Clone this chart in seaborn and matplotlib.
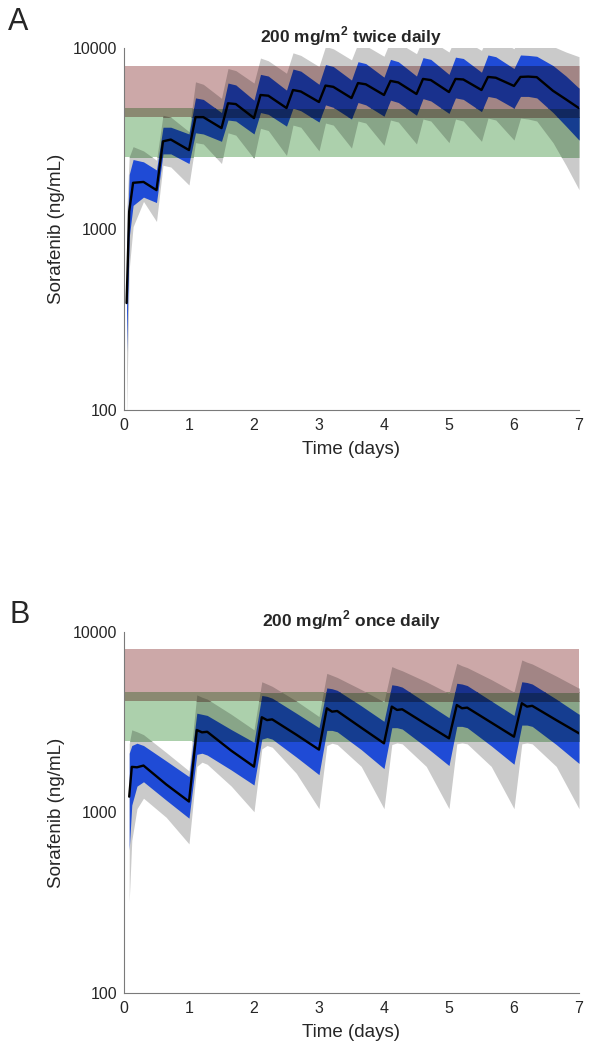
import matplotlib
matplotlib.use("Agg")
import matplotlib.pyplot as plt
import seaborn as sns
import pandas as pd
from matplotlib.colors import to_rgb
from matplotlib.ticker import NullLocator

# ---- data (ng/mL vs days) ----
# 200 mg/m2 twice daily
t_bid = [0.04, 0.08, 0.14, 0.3,
         0.5, 0.6, 0.72, 1.0, 1.1, 1.22, 1.5, 1.6, 1.72,
         2.0, 2.1, 2.22, 2.5, 2.6, 2.72, 3.0, 3.1, 3.22,
         3.5, 3.6, 3.72, 4.0, 4.1, 4.22, 4.5, 4.6, 4.72,
         5.0, 5.1, 5.22, 5.5, 5.6, 5.72, 6.0, 6.1, 6.22,
         6.35, 6.6, 6.8, 7.0]
median_bid = [390, 1250, 1800, 1820,
              1640, 3050, 3120, 2730, 4150, 4150, 3610, 4950, 4900,
              4100, 5500, 5450, 4660, 5860, 5750, 5030, 6200, 6100,
              5290, 6400, 6300, 5500, 6580, 6450, 5570, 6745, 6650,
              5710, 6745, 6700, 5860, 6920, 6850, 6170, 6920, 6950,
              6900, 5800, 5200, 4650]
blue_lo_bid = [210, 900, 1350, 1500,
               1400, 2600, 2600, 2300, 3400, 3350, 3050, 4000, 3950,
               3350, 4400, 4300, 3700, 4650, 4500, 3900, 4850, 4700,
               4050, 5000, 4850, 4200, 5150, 5000, 4250, 5250, 5100,
               4350, 5300, 5200, 4450, 5400, 5300, 4650, 5400, 5400,
               5300, 4400, 3700, 3100]
blue_hi_bid = [700, 2000, 2420, 2350,
               2120, 3650, 3650, 3350, 5300, 5200, 4400, 6400, 6250,
               5150, 7150, 7000, 5850, 7650, 7450, 6300, 8100, 7900,
               6650, 8400, 8200, 6900, 8650, 8400, 7000, 8850, 8650,
               7150, 8900, 8750, 7350, 9150, 8950, 7700, 9150, 9100,
               9000, 8000, 7000, 6000]
gray_lo_bid = [90, 600, 1030, 1420,
               1100, 2250, 2200, 1750, 3000, 2950, 2300, 3400, 3300,
               2450, 3600, 3500, 2550, 3750, 3650, 2700, 3850, 3750,
               2800, 3950, 3850, 2900, 4000, 3900, 2950, 4050, 3950,
               3000, 4050, 3950, 3050, 4100, 4000, 3100, 4100, 4050,
               3950, 3000, 2250, 1650]
gray_hi_bid = [1200, 2500, 2850, 2700,
               2400, 4250, 4150, 3450, 6500, 6300, 5270, 7700, 7500,
               6400, 8800, 8500, 7250, 9400, 9100, 7900, 10200, 9900,
               8600, 10600, 10300, 9000, 11000, 10700, 9300, 11300, 11000,
               9500, 11400, 11100, 9700, 11600, 11300, 9900, 11800, 11700,
               11500, 10200, 9500, 8950]

# 200 mg/m2 once daily
t_qd = [0.08, 0.12, 0.2, 0.3, 0.65,
        1.0, 1.12, 1.2, 1.28, 1.65,
        2.0, 2.12, 2.2, 2.28, 2.65,
        3.0, 3.12, 3.2, 3.28, 3.65,
        4.0, 4.12, 4.2, 4.28, 4.65,
        5.0, 5.12, 5.2, 5.28, 5.65,
        6.0, 6.12, 6.2, 6.28, 6.65,
        7.0]
median_qd = [1224, 1790, 1780, 1820, 1430,
             1150, 2865, 2780, 2800, 2200,
             1794, 3370, 3250, 3280, 2700,
             2230, 3780, 3620, 3650, 2950,
             2417, 3860, 3700, 3730, 3080,
             2576, 3940, 3780, 3810, 3150,
             2630, 4030, 3860, 3900, 3250,
             2746]
blue_lo_qd = [620, 1100, 1400, 1480, 1170,
              930, 2100, 2130, 2080, 1720,
              1420, 2550, 2600, 2550, 2030,
              1620, 2850, 2850, 2800, 2230,
              1750, 2950, 2950, 2900, 2300,
              1820, 3000, 3000, 2950, 2340,
              1850, 3050, 3050, 3000, 2380,
              1870]
blue_hi_qd = [2130, 2350, 2420, 2350, 1930,
              1580, 3550, 3500, 3450, 2880,
              2450, 4450, 4400, 4300, 3550,
              2950, 4900, 4850, 4750, 3900,
              3200, 5100, 5050, 4950, 4050,
              3350, 5200, 5150, 5050, 4150,
              3450, 5300, 5250, 5150, 4250,
              3500]
gray_lo_qd = [320, 700, 1050, 1200, 940,
              670, 1800, 1900, 1850, 1400,
              1010, 2250, 2350, 2300, 1650,
              1050, 2350, 2420, 2380, 1800,
              1050, 2380, 2430, 2400, 1800,
              1050, 2400, 2430, 2400, 1800,
              1050, 2400, 2430, 2400, 1800,
              1050]
gray_hi_qd = [2400, 2870, 2800, 2700, 2150,
              1700, 4480, 4350, 4250, 3500,
              2870, 5300, 5150, 5000, 4150,
              3400, 5900, 5750, 5600, 4800,
              4100, 6430, 6250, 6100, 5300,
              4570, 6700, 6500, 6350, 5450,
              4650, 7000, 6800, 6650, 5700,
              4880]

# target ranges
red_band = [4150, 8000]
green_band = [2500, 4650]

GRAY = "#cacaca"
BLUE = "#1f4bd6"
RED_TINT = "#cca8a8"
GREEN_TINT = "#acd0ac"
AXIS_COLOR = "#7a7a7a"
TEXT_COLOR = "#262626"

sns.set_style("white")
plt.rcParams["font.family"] = ["Liberation Sans", "DejaVu Sans"]
plt.rcParams["mathtext.fontset"] = "custom"
plt.rcParams["mathtext.rm"] = "Liberation Sans"
plt.rcParams["mathtext.bf"] = "Liberation Sans:bold"


def mult(c1, c2):
    # multiply blend of two colours (bands look multiplied over the curves)
    return tuple(a * b for a, b in zip(to_rgb(c1), to_rgb(c2)))


def draw_panel(ax, t, med, blo, bhi, glo, ghi, title):
    ax.set_yscale("log")
    ax.fill_between(t, glo, ghi, color=GRAY, lw=0, zorder=1)
    ax.fill_between(t, blo, bhi, color=BLUE, lw=0, zorder=1.1)

    overlap = mult(RED_TINT, GREEN_TINT)
    strips = [
        (green_band[0], red_band[0], to_rgb(GREEN_TINT)),
        (red_band[0], green_band[1], overlap),
        (green_band[1], red_band[1], to_rgb(RED_TINT)),
    ]
    for lo, hi, tint in strips:
        span = ax.axhspan(lo, hi, color=tint, lw=0, zorder=2)
        g = ax.fill_between(t, glo, ghi, color=mult(GRAY, tint), lw=0, zorder=2.1)
        b = ax.fill_between(t, blo, bhi, color=mult(BLUE, tint), lw=0, zorder=2.2)
        g.set_clip_path(span)
        b.set_clip_path(span)

    df = pd.DataFrame({"time": t, "conc": med})
    sns.lineplot(data=df, x="time", y="conc", color="black", lw=1.7,
                 ax=ax, zorder=3)

    ax.set_xlim(0, 7)
    ax.set_ylim(100, 10000)
    ax.set_xticks(range(8))
    ax.set_yticks([100, 1000, 10000])
    ax.set_yticklabels(["100", "1000", "10000"])
    ax.yaxis.set_minor_locator(NullLocator())
    sns.despine(ax=ax)
    for s in ["left", "bottom"]:
        ax.spines[s].set_color(AXIS_COLOR)
        ax.spines[s].set_linewidth(0.8)
    ax.tick_params(direction="in", length=3, width=0.8, color=AXIS_COLOR,
                   labelcolor=TEXT_COLOR, labelsize=11.5)
    ax.tick_params(axis="x", pad=6)
    ax.tick_params(axis="y", pad=5)
    ax.set_xlabel("Time (days)", fontsize=13.5, color=TEXT_COLOR)
    ax.set_ylabel("Sorafenib (ng/mL)", fontsize=13.5, color=TEXT_COLOR)
    ax.xaxis.set_label_coords(0.5, -0.085)
    ax.yaxis.set_label_coords(-0.13, 0.5)
    ax.set_title(title, fontsize=12.5, fontweight="bold", pad=4)


fig = plt.figure(figsize=(5.95, 10.5), dpi=100)
ax_a = fig.add_axes([0.2084, 0.6095, 0.7647, 0.3448])
ax_b = fig.add_axes([0.2084, 0.0543, 0.7647, 0.3438])

draw_panel(ax_a, t_bid, median_bid, blue_lo_bid, blue_hi_bid,
           gray_lo_bid, gray_hi_bid, r"200 mg/m$^{\mathbf{2}}$ twice daily")
draw_panel(ax_b, t_qd, median_qd, blue_lo_qd, blue_hi_qd,
           gray_lo_qd, gray_hi_qd, r"200 mg/m$^{\mathbf{2}}$ once daily")

fig.text(0.013, 0.9714, "A", fontsize=22, va="baseline")
fig.text(0.016, 0.4067, "B", fontsize=22, va="baseline")

fig.savefig("out.png", dpi=100)
